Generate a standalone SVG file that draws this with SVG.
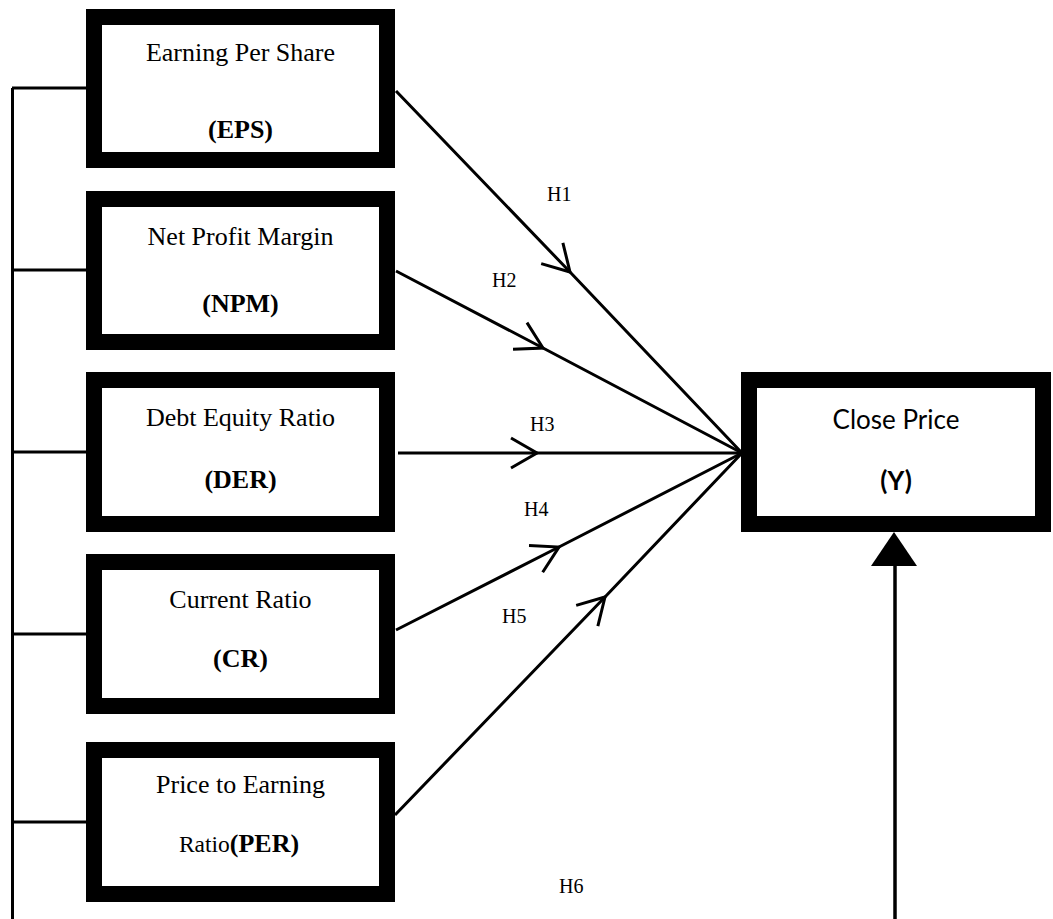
<svg xmlns="http://www.w3.org/2000/svg" width="1053" height="919" viewBox="0 0 1053 919">
<style>
.box{fill:#fff;stroke:#000;stroke-width:16}
.t{font-family:"Liberation Serif","Times New Roman",serif;font-size:26px;fill:#000;text-anchor:middle}
.b{font-weight:bold}
.h{font-family:"Liberation Serif","Times New Roman",serif;font-size:20px;fill:#000}
.c{font-family:Lato,"Liberation Sans",sans-serif;font-size:26px;fill:#000;text-anchor:middle}
.ln{fill:none;stroke:#000;stroke-width:3}
</style>
<defs>
<marker id="v" markerUnits="userSpaceOnUse" orient="auto" refX="0" refY="0" markerWidth="40" markerHeight="40" overflow="visible">
<path d="M-26,-15 L0,0 L-26,15" fill="none" stroke="#000" stroke-width="3"/>
</marker>
</defs>
<g id="connectors">
<path class="ln" d="M12.5,88 V919"/>
<path class="ln" d="M12,88 H86"/>
<path class="ln" d="M12,270 H86"/>
<path class="ln" d="M12,452 H86"/>
<path class="ln" d="M12,634 H86"/>
<path class="ln" d="M12,822 H86"/>
<path class="ln" d="M396,91 L570,272 L742,453" marker-mid="url(#v)"/>
<path class="ln" d="M396,271 L543,348 L742,453" marker-mid="url(#v)"/>
<path class="ln" d="M398,453 L537,453 L742,453" marker-mid="url(#v)"/>
<path class="ln" d="M396,630 L559,547 L742,453" marker-mid="url(#v)"/>
<path class="ln" d="M395,815 L605,597 L742,453" marker-mid="url(#v)"/>
<path d="M895,566 V919" fill="none" stroke="#000" stroke-width="3.5"/>
<polygon points="894,532 871,566 917,566" fill="#000"/>
<text class="h" x="547" y="201">H1</text>
<text class="h" x="492" y="287">H2</text>
<text class="h" x="530" y="431">H3</text>
<text class="h" x="524" y="516">H4</text>
<text class="h" x="502" y="623">H5</text>
<text class="h" x="559" y="893">H6</text>
</g>
<g id="eps">
<rect class="box" x="94" y="17" width="293" height="143"/>
<text class="t" x="240.5" y="61">Earning Per Share</text>
<text class="t b" x="240.5" y="138">(EPS)</text>
</g>
<g id="npm">
<rect class="box" x="94" y="199" width="293" height="143"/>
<text class="t" x="240.5" y="245">Net Profit Margin</text>
<text class="t b" x="240.5" y="312">(NPM)</text>
</g>
<g id="der">
<rect class="box" x="94" y="380" width="293" height="144"/>
<text class="t" x="240.5" y="426">Debt Equity Ratio</text>
<text class="t b" x="240.5" y="488">(DER)</text>
</g>
<g id="cr">
<rect class="box" x="94" y="562" width="293" height="144"/>
<text class="t" x="240.5" y="608">Current Ratio</text>
<text class="t b" x="240.5" y="667">(CR)</text>
</g>
<g id="per">
<rect class="box" x="94" y="750" width="293" height="144"/>
<text class="t" x="240.5" y="793" font-size="23.5">Price to Earning</text>
<text class="t" x="239" y="852"><tspan font-size="23.5">Ratio</tspan><tspan class="b">(PER)</tspan></text>
</g>
<g id="close">
<rect class="box" x="749" y="380" width="294" height="144"/>
<text class="c" x="896" y="429">Close Price</text>
<text class="c b" x="896" y="490">(Y)</text>
</g>
</svg>
